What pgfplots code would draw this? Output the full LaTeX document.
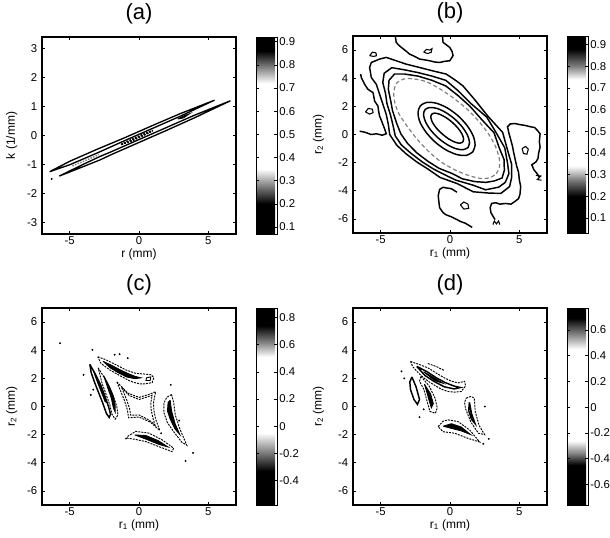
\documentclass[border=0pt]{standalone}
\usepackage{fontspec}
\setmainfont{Liberation Sans}
\usepackage{pgfplots}
\pgfplotsset{compat=1.18}

% grey colormaps of the four colour bars (black - grey - white - grey - black)
\pgfplotsset{
  colormap={mapa}{gray(0pt)=(0); gray(13pt)=(0); gray(20pt)=(0.45); gray(28pt)=(1); gray(65pt)=(1); gray(72pt)=(0.5); gray(79pt)=(0); gray(85pt)=(0)},
  colormap={mapb}{gray(0pt)=(0); gray(17pt)=(0); gray(24pt)=(0.45); gray(31pt)=(1); gray(71pt)=(1); gray(77pt)=(0.5); gray(85pt)=(0); gray(91pt)=(0)},
  colormap={mapc}{gray(0pt)=(0); gray(25pt)=(0); gray(39pt)=(0.5); gray(53pt)=(1); gray(109pt)=(1); gray(120pt)=(0.5); gray(132pt)=(0); gray(145pt)=(0)},
  colormap={mapd}{gray(0pt)=(0); gray(31pt)=(0); gray(40pt)=(0.5); gray(50pt)=(1); gray(121pt)=(1); gray(133pt)=(0.5); gray(145pt)=(0); gray(153pt)=(0)},
}

\pgfplotsset{
  panel/.style={
    scale only axis, width=145.5pt, height=147.75pt,
    xmin=-7, xmax=7, xtick={-5,0,5},
    tick align=inside, major tick length=2.5pt,
    every tick/.style={black, line width=0.5pt},
    axis line style={line width=0.8pt},
    tick label style={font=\fontsize{8.5}{10}\selectfont},
    xticklabel style={inner sep=1.5pt},
    label style={font=\fontsize{9}{11}\selectfont, inner sep=0pt},
    xlabel style={at={(axis description cs:0.5,-0.072)}, anchor=north},
    title style={at={(axis description cs:0.5,1)}, anchor=south, inner sep=0pt, yshift=3.5pt, font=\fontsize{16.5}{19}\selectfont},
    /pgf/number format/assume math mode=true,
    colorbar,
    colorbar style={
      at={(parent axis.north east)}, anchor=north west, xshift=6.5pt,
      scale only axis, width=15.75pt, height=147.75pt,
      tick align=inside, major tick length=2pt,
      every tick/.style={black, line width=0.4pt},
      axis line style={line width=0.6pt},
      yticklabel style={font=\fontsize{8.5}{10}\selectfont, inner sep=1.5pt, /pgf/number format/fixed, /pgf/number format/precision=1, /pgf/number format/assume math mode=true},
    },
  },
  cl/.style={black, line width=1.1pt, mark=none},
  cs/.style={black, line width=1.1pt, mark=none, smooth},
  cg/.style={gray, line width=0.9pt, mark=none, smooth, densely dashed},
  cd/.style={black, line width=0.7pt, mark=none, dash pattern=on 1.5pt off 0.8pt},
  cf/.style={black, fill=black, line width=0.6pt, mark=none},
  dots/.style={only marks, mark=*, mark size=0.5pt, black},
}

\begin{document}
\begin{tikzpicture}
\useasboundingbox (0,0) rectangle (457.5pt,402.75pt);

% ---------------- (a) ----------------
\begin{axis}[panel, at={(31.5pt,227.25pt)}, anchor=south west,
  ymin=-3.4, ymax=3.4, ytick={-3,-2,-1,0,1,2,3},
  title={(a)}, xlabel={r (mm)}, ylabel={k (1/mm)},
  ylabel style={at={(axis description cs:-0.126,0.5)}, anchor=south},
  colormap name=mapa, point meta min=0.07, point meta max=0.92,
  colorbar style={ytick={0.1,0.2,0.3,0.4,0.5,0.6,0.7,0.8,0.9}}]
\addplot[cl, line width=1pt] coordinates {(-6.45,-1.25) (-5,-0.89) (-3,-0.47) (-1,-0.07) (1,0.35) (3,0.76) (5.45,1.22) (3,0.67) (1,0.25) (-1,-0.17) (-3,-0.60) (-5,-1.01) (-6.45,-1.25)};
\addplot[cl, line width=1pt] coordinates {(-5.75,-1.40) (-4,-0.99) (-2.8,-0.72) (-2,-0.56) (0,-0.14) (2,0.28) (4,0.70) (6.6,1.20) (4,0.61) (2,0.18) (0,-0.24) (-2,-0.66) (-2.8,-0.84) (-4,-1.07) (-5.75,-1.40)};
\addplot[black, line width=1.3pt, densely dotted] coordinates {(-1.3,-0.31) (-0.5,-0.13) (0.3,0.04) (1.0,0.17) (0.3,0.0) (-0.5,-0.18) (-1.3,-0.31)};
\addplot[gray, line width=1.1pt, densely dotted] coordinates {(-4.8,-1.05) (-3.8,-0.85) (-2.9,-0.66)};
\addplot[cl, line width=0.8pt] coordinates {(2.8,0.57) (3.2,0.67) (3.6,0.74) (3.2,0.61) (2.8,0.57)};
\addplot[dots] coordinates {(-6.3,-1.5)};
\end{axis}

% ---------------- (b) ----------------
\begin{axis}[panel, at={(264.75pt,228pt)}, anchor=south west,
  ymin=-7, ymax=7, ytick={-6,-4,-2,0,2,4,6},
  title={(b)}, xlabel={r\textsubscript{1} (mm)}, ylabel={r\textsubscript{2} (mm)},
  ylabel style={at={(axis description cs:-0.147,0.5)}, anchor=south},
  colormap name=mapb, point meta min=0.03, point meta max=0.94,
  colorbar style={ytick={0.1,0.2,0.3,0.4,0.5,0.6,0.7,0.8,0.9}}]
% inner ellipses
\addplot[cs] coordinates {(0.93,-0.53) (0.98,-0.30) (0.86,0.05) (0.57,0.46) (0.16,0.87) (-0.30,1.21) (-0.75,1.44) (-1.11,1.52) (-1.33,1.43) (-1.38,1.20) (-1.26,0.85) (-0.97,0.44) (-0.56,0.04) (-0.10,-0.31) (0.35,-0.54) (0.71,-0.62) (0.93,-0.53)};
\addplot[cs] coordinates {(1.30,-0.93) (1.41,-0.56) (1.26,-0.05) (0.89,0.53) (0.34,1.10) (-0.30,1.56) (-0.93,1.85) (-1.45,1.92) (-1.80,1.77) (-1.91,1.40) (-1.76,0.89) (-1.39,0.31) (-0.84,-0.26) (-0.20,-0.72) (0.43,-1.01) (0.95,-1.08) (1.30,-0.93)};
\addplot[cs] coordinates {(1.64,-1.24) (1.81,-0.75) (1.67,-0.09) (1.23,0.64) (0.57,1.34) (-0.22,1.90) (-1.01,2.23) (-1.68,2.28) (-2.14,2.04) (-2.31,1.55) (-2.17,0.89) (-1.73,0.16) (-1.07,-0.54) (-0.28,-1.10) (0.51,-1.43) (1.18,-1.48) (1.64,-1.24)};
% grey level
\addplot[cg] coordinates {(3.34,-2.79) (3.57,-2.30) (3.54,-1.63) (3.27,-0.82) (2.76,0.07) (2.05,0.97) (1.19,1.84) (0.24,2.60) (-0.74,3.25) (-1.70,3.75) (-2.60,3.95) (-3.30,3.95) (-3.85,3.65) (-4.05,3.05) (-4.00,2.35) (-3.70,1.50) (-3.10,0.60) (-2.40,-0.30) (-1.55,-1.20) (-0.60,-1.98) (0.44,-2.55) (1.37,-2.92) (2.21,-3.12) (2.88,-3.07) (3.34,-2.79)};
% wavy outer levels
\addplot[cl] coordinates {(3.18,0.12) (2.28,1.07) (1.45,2.00) (0.60,2.75) (-0.30,3.45) (-1.30,3.85) (-2.30,4.15) (-3.30,4.30) (-4.00,4.30) (-4.40,3.85) (-4.45,3.20) (-4.30,2.50) (-4.15,1.70) (-3.85,0.80) (-3.55,0.05) (-3.05,-0.65) (-2.40,-1.30) (-1.60,-1.90) (-0.80,-2.40) (0.10,-2.75) (0.90,-3.15) (1.80,-3.35) (2.60,-3.40) (3.20,-3.30) (3.76,-3.09) (3.92,-2.55) (3.90,-1.78) (3.55,-0.94) (3.18,0.12)};
\addplot[cl] coordinates {(3.37,0.06) (2.65,1.24) (1.50,2.21) (0.60,3.10) (-0.30,3.85) (-1.30,4.15) (-2.30,4.40) (-3.30,4.60) (-4.20,4.75) (-4.75,4.35) (-4.85,3.70) (-4.65,2.90) (-4.55,2.20) (-4.30,1.40) (-4.10,0.60) (-3.95,-0.10) (-3.50,-0.75) (-2.80,-1.35) (-2.00,-1.95) (-1.20,-2.45) (-0.40,-2.85) (0.41,-3.24) (1.66,-3.60) (2.57,-3.93) (3.52,-3.74) (3.99,-3.40) (4.25,-2.78) (4.15,-2.02) (3.95,-0.94) (3.37,0.06)};
\addplot[cl] coordinates {(3.80,0.15) (2.77,1.26) (1.78,2.48) (0.94,3.45) (0.46,3.81) (-0.26,4.29) (-1.23,4.52) (-2.19,4.76) (-3.16,5.00) (-3.88,5.24) (-4.60,5.48) (-5.08,5.36) (-5.68,5.12) (-5.80,4.76) (-5.68,4.05) (-5.32,3.57) (-5.08,2.86) (-4.84,2.14) (-4.60,1.43) (-4.45,0.70) (-4.35,0.00) (-3.85,-0.75) (-3.20,-1.35) (-2.40,-1.95) (-1.60,-2.45) (-0.72,-3.05) (0.55,-3.50) (1.67,-4.07) (2.90,-4.17) (3.68,-4.18) (4.30,-3.70) (4.45,-3.05) (4.45,-2.12) (4.15,-1.10) (3.80,0.15)};
% outermost irregular level
\addplot[cl] coordinates {(-3.95,7.0) (-3.88,6.55) (-3.70,6.35) (-3.51,6.19) (-3.20,5.95) (-2.91,5.71) (-2.55,5.55) (-2.19,5.36) (-1.80,5.30) (-1.47,5.24) (-1.10,5.15) (-0.74,5.12) (-0.40,5.20) (-0.02,5.24) (0.22,5.60) (0.15,5.90) (-0.02,6.19) (-0.30,6.40) (-0.50,6.55) (-0.55,7.0)};
\addplot[cl] coordinates {(-6.45,4.30) (-6.40,4.05) (-6.16,3.57) (-5.92,3.21) (-5.56,2.98) (-5.50,2.70) (-5.44,2.38) (-5.20,2.02) (-5.15,1.65) (-5.08,1.31) (-4.95,1.00) (-4.84,0.71) (-4.70,0.35) (-4.60,0.05) (-4.90,-0.05) (-5.30,0.05) (-5.70,0.00) (-6.10,0.15) (-6.52,0.24)};
\addplot[cl] coordinates {(6.45,-3.05) (6.3,-2.8) (6.05,-2.5) (5.9,-2.15) (6.2,-1.95) (6.35,-1.7) (6.4,-1.3) (6.5,-0.9) (6.45,-0.5) (6.5,0.05) (6.3,0.3) (6.1,0.5) (5.8,0.55) (5.4,0.65) (5.05,0.7) (4.7,0.78) (4.35,0.75) (4.15,0.55) (4.25,0.1) (4.35,-0.25) (4.5,-0.8) (4.6,-1.3) (4.7,-1.75) (4.8,-2.2) (4.95,-2.7) (5.0,-3.2) (5.1,-3.7) (5.05,-4.25) (4.95,-4.55) (4.7,-4.75) (4.4,-4.95) (4.0,-4.9) (3.6,-4.95) (3.3,-4.85) (3.0,-4.9) (2.9,-5.2) (2.95,-5.55) (3.1,-5.8) (3.25,-6.05)};
\addplot[cl] coordinates {(0.5,-4.1) (0.1,-3.85) (-0.25,-3.8) (-0.5,-3.75) (-0.75,-3.9) (-0.85,-4.35) (-0.8,-4.8) (-0.75,-5.2) (-0.5,-5.55) (-0.3,-5.7) (0.1,-5.85) (0.4,-6.0) (0.8,-6.2) (1.1,-6.3) (1.35,-6.45) (1.6,-6.6)};
% islands
\addplot[cl, line width=0.8pt] coordinates {(-1.9,5.85) (-1.7,6.05) (-1.45,6.0) (-1.3,6.1) (-1.35,5.85) (-1.6,5.75) (-1.9,5.85)};
\addplot[cl, line width=0.8pt] coordinates {(-5.8,5.6) (-5.6,5.85) (-5.35,5.8) (-5.3,5.6) (-5.5,5.55) (-5.8,5.6)};
\addplot[cl, line width=0.8pt] coordinates {(-6.1,1.6) (-5.9,1.85) (-5.6,1.8) (-5.55,1.55) (-5.8,1.45) (-6.1,1.6)};
\addplot[cl, line width=0.8pt] coordinates {(5.2,-1.0) (5.45,-0.85) (5.65,-1.05) (5.55,-1.4) (5.3,-1.35) (5.2,-1.0)};
\addplot[cl, line width=0.8pt] coordinates {(0.75,-5.0) (1.0,-4.8) (1.3,-4.95) (1.35,-5.25) (1.0,-5.3) (0.75,-5.0)};
\addplot[cl, line width=0.8pt] coordinates {(6.2,-2.9) (6.55,-2.95) (6.3,-3.2) (6.6,-3.25)};
\addplot[cl, line width=0.8pt] coordinates {(3.1,-6.4) (3.2,-6.15) (3.35,-6.35) (3.5,-6.15) (3.6,-6.4)};
\end{axis}

% ---------------- (c) ----------------
\begin{axis}[panel, at={(31.5pt,24pt)}, anchor=south west,
  ymin=-7, ymax=7, ytick={-6,-4,-2,0,2,4,6},
  title={(c)}, xlabel={r\textsubscript{1} (mm)}, ylabel={r\textsubscript{2} (mm)},
  ylabel style={at={(axis description cs:-0.126,0.5)}, anchor=south},
  colormap name=mapc, point meta min=-0.58, point meta max=0.87,
  colorbar style={ytick={-0.4,-0.2,0,0.2,0.4,0.6,0.8}}]
% upper crescent
\addplot[cd] coordinates {(-2.98,3.54) (-2.38,3.32) (-1.67,2.97) (-0.95,2.6) (-0.24,2.36) (0.48,2.3) (0.9,2.25) (1.07,2.05) (0.95,1.7) (0.5,1.62) (0.12,1.6) (-0.4,1.72) (-0.71,1.84) (-1.43,2.22) (-2.14,2.62) (-2.74,3.06) (-2.98,3.54)};
\addplot[cf] coordinates {(-2.6,3.22) (-2.0,2.94) (-1.4,2.63) (-0.8,2.35) (-0.3,2.15) (0.15,2.04) (-0.3,1.97) (-0.9,2.1) (-1.5,2.4) (-2.1,2.76) (-2.6,3.22)};
\addplot[cl, line width=0.7pt] coordinates {(0.55,2.05) (0.85,2.1) (0.8,1.85) (0.5,1.85) (0.55,2.05)};
% left crescents
\addplot[cl] coordinates {(-3.55,3.0) (-3.15,2.3) (-2.75,1.5) (-2.45,0.7) (-2.2,0.0) (-2.05,-0.55) (-2.15,-0.78) (-2.35,-0.5) (-2.6,0.2) (-2.9,0.95) (-3.2,1.7) (-3.45,2.4) (-3.55,3.0)};
\addplot[cf] coordinates {(-3.3,2.55) (-2.95,1.8) (-2.6,1.0) (-2.35,0.3) (-2.45,0.35) (-2.75,1.1) (-3.05,1.85) (-3.3,2.55)};
\addplot[cd] coordinates {(-2.95,2.75) (-2.5,2.05) (-2.1,1.3) (-1.8,0.6) (-1.6,0.0) (-1.52,-0.6) (-1.72,-0.9) (-1.95,-0.55) (-2.1,0.1) (-2.35,0.8) (-2.65,1.6) (-2.95,2.75)};
\addplot[cf] coordinates {(-2.55,2.2) (-2.15,1.45) (-1.85,0.75) (-1.72,0.1) (-1.72,-0.4) (-1.85,-0.1) (-2.0,0.6) (-2.25,1.3) (-2.55,2.2)};
% central diamond
\addplot[cd] coordinates {(-1.6,1.75) (-0.8,0.95) (0,0.65) (0.7,0.85) (1.2,1.05) (1.05,0.3) (1.07,-0.25) (1.2,-0.9) (1.5,-1.7) (0.8,-1.1) (0,-0.75) (-0.75,-0.8) (-0.85,-0.2) (-1.07,0.49) (-1.6,1.75)};
\addplot[cd] coordinates {(-1.25,1.35) (-0.7,0.78) (0,0.5) (0.6,0.68) (0.95,0.8) (0.85,0.25) (0.88,-0.25) (1.0,-0.8) (1.15,-1.3) (0.7,-0.95) (0,-0.6) (-0.6,-0.62) (-0.68,-0.15) (-0.88,0.45) (-1.25,1.35)};
% right crescent
\addplot[cd] coordinates {(2.35,0.85) (2.5,0.3) (2.62,-0.6) (2.95,-1.6) (3.45,-2.75) (3.1,-2.55) (2.55,-1.85) (2.05,-1.15) (1.8,-0.45) (1.8,0.25) (2.0,0.65) (2.35,0.85)};
\addplot[cf] coordinates {(2.25,0.45) (2.35,-0.3) (2.6,-1.2) (2.95,-2.0) (2.6,-1.6) (2.25,-0.9) (2.05,-0.3) (2.1,0.3) (2.25,0.45)};
% lower crescent
\addplot[cd] coordinates {(-0.83,-2.13) (-0.24,-1.77) (0.71,-1.89) (1.67,-2.37) (2.5,-2.96) (2.38,-3.2) (1.43,-2.85) (0.48,-2.49) (-0.36,-2.32) (-0.83,-2.25) (-0.83,-2.13)};
\addplot[cf] coordinates {(-0.3,-2.02) (0.5,-2.06) (1.4,-2.43) (2.1,-2.88) (1.4,-2.68) (0.5,-2.32) (-0.3,-2.02)};
\addplot[dots] coordinates {(-5.7,4.5) (-3.36,4.03) (-1.76,3.68) (-1.4,3.72) (-0.81,3.44) (-4.0,2.25) (-3.48,0.82) (-3.3,1.2) (2.29,1.54) (3.36,-3.87) (3.9,-3.3) (-0.93,-2.27) (1.6,-1.9) (2.9,-1.0)};
\end{axis}

% ---------------- (d) ----------------
\begin{axis}[panel, at={(264.75pt,24pt)}, anchor=south west,
  ymin=-7, ymax=7, ytick={-6,-4,-2,0,2,4,6},
  title={(d)}, xlabel={r\textsubscript{1} (mm)}, ylabel={r\textsubscript{2} (mm)},
  ylabel style={at={(axis description cs:-0.147,0.5)}, anchor=south},
  colormap name=mapd, point meta min=-0.76, point meta max=0.77,
  colorbar style={ytick={-0.6,-0.4,-0.2,0,0.2,0.4,0.6}}]
% upper crescent
\addplot[cd] coordinates {(-2.85,3.2) (-2.2,2.98) (-1.58,2.74) (-0.95,2.35) (-0.38,2.02) (0.1,1.8) (0.58,1.68) (1.06,1.79) (1.12,1.45) (0.81,1.07) (0.3,1.02) (-0.14,1.07) (-0.6,1.22) (-0.98,1.43) (-1.5,1.75) (-1.94,2.07) (-2.35,2.45) (-2.7,2.85) (-2.85,3.2)};
\addplot[cl] coordinates {(-2.4,2.85) (-1.7,2.5) (-1.0,2.05) (-0.35,1.7) (0.3,1.45) (0.75,1.35) (0.3,1.25) (-0.4,1.4) (-1.1,1.75) (-1.8,2.2) (-2.4,2.85)};
\addplot[cf] coordinates {(-1.9,2.47) (-1.1,2.02) (-0.5,1.65) (-1.1,1.83) (-1.9,2.47)};
\addplot[cd] coordinates {(-1.6,3.05) (-1.0,2.85) (-0.4,2.55)};
% left loops
\addplot[cl] coordinates {(-2.75,2.1) (-2.45,1.4) (-2.2,0.5) (-2.35,0.15) (-2.6,0.5) (-2.85,1.2) (-2.9,1.75) (-2.75,2.1)};
\addplot[cd] coordinates {(-2.1,2.15) (-1.5,1.45) (-1.08,0.6) (-0.92,-0.1) (-1.05,-0.48) (-1.45,-0.35) (-1.65,0.35) (-1.88,1.2) (-2.2,1.8) (-2.1,2.15)};
\addplot[cf] coordinates {(-1.85,1.6) (-1.4,0.9) (-1.2,0.2) (-1.35,-0.1) (-1.5,0.4) (-1.7,1.1) (-1.85,1.6)};
% right loop
\addplot[cd] coordinates {(1.17,0.6) (1.5,0.72) (1.75,0.6) (1.82,-0.35) (2.1,-1.35) (2.5,-2.0) (2.05,-1.9) (1.5,-1.1) (1.12,-0.15) (1.05,0.3) (1.17,0.6)};
\addplot[cl] coordinates {(1.4,0.3) (1.55,-0.5) (1.8,-1.2) (1.55,-0.9) (1.35,-0.3) (1.4,0.3)};
% lower loop
\addplot[cd] coordinates {(-0.86,-1.43) (-0.5,-1.05) (-0.14,-0.95) (0.58,-1.07) (1.42,-1.67) (2.14,-2.52) (1.29,-2.26) (0.34,-1.9) (-0.5,-1.79) (-0.86,-1.43)};
\addplot[cf] coordinates {(-0.5,-1.4) (0.1,-1.22) (0.8,-1.45) (1.5,-2.0) (0.8,-1.73) (0.0,-1.53) (-0.5,-1.4)};
\addplot[dots] coordinates {(-3.5,2.5) (-3.3,2.0) (-2.2,-0.75) (2.4,-2.65) (2.52,0.0) (-1.9,-0.2) (2.8,-2.3) (1.5,-0.35)};
\end{axis}
\end{tikzpicture}
\end{document}
